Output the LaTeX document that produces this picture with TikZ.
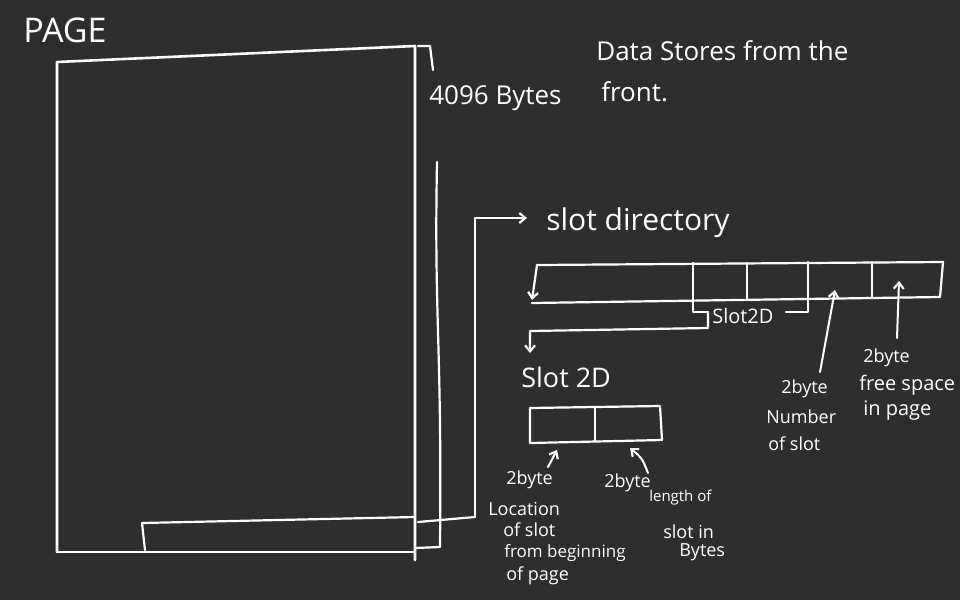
\documentclass[tikz,border=0pt]{standalone}
\usepackage{fontspec}
\setmainfont{Open Sans}
\usetikzlibrary{arrows.meta}
\definecolor{board}{HTML}{2E2E2E}
\begin{document}
\begin{tikzpicture}[x=1pt,y=-1pt,line width=2.6pt,line cap=round,line join=round,
  ink/.style={draw=white},
  lbl/.style={text=white,anchor=base west,inner sep=0pt,font=\fontsize{18}{18}\selectfont},
  big/.style={lbl,font=\fontsize{26}{26}\selectfont},
  arr/.style={ink,-{Straight Barb[length=6pt,width=10pt,line width=2.2pt]}}]
\fill[board] (0,0) rectangle (960,600);
\useasboundingbox (0,0) rectangle (960,600);

% ---- page sheet ----
\coordinate (pTL) at (57,62);
\coordinate (pTR) at (415,46);
\coordinate (pBL) at (57,552);
\coordinate (pBR) at (415,552);
\draw[ink] (pBL) -- (pTL) -- (pTR) -- (415,560);
\draw[ink] (pBL) -- (pBR);
% size bracket
\draw[ink,line width=2.2pt] (418,46) -- (430,46) -- (433,70);
% second sheet edge
\coordinate (sTop) at (437,162);
\coordinate (sBot) at (440,547);
\draw[ink,line width=2.2pt] (sTop) .. controls (434,320) and (442,340) .. (sBot) -- (415,548);
% slot directory strip inside page
\coordinate (dTL) at (142,523);
\coordinate (dTR) at (415,517);
\draw[ink,line width=2.2pt] (145,550) -- (dTL) -- (dTR);
\coordinate (cEnd) at (475,517);
\draw[ink,line width=2.2pt] (418,522) -- (cEnd);
\coordinate (cTop) at (475,218);
\coordinate (cArr) at (527,218);
\draw[arr,line width=2.2pt] (cEnd) -- (cTop) -- (cArr);

% ---- texts ----
\node[lbl,font=\fontsize{34}{34}\selectfont] (title) at (22,42) {PAGE};
\node[big,font=\fontsize{26}{26}\selectfont] (size) at (428,104) {4096 Bytes};
\node[big,font=\fontsize{26}{26}\selectfont] (note1) at (595,60) {Data Stores from the};
\node[big,font=\fontsize{26}{26}\selectfont] (note2) at (600,101) {front.};
\node[big,font=\fontsize{30}{30}\selectfont] (sdir) at (545,230) {slot directory};

% ---- slot directory ----
\coordinate (aTL) at (537,265);
\coordinate (aTR) at (943,262);
\coordinate (aBR) at (940,297);
\coordinate (aBL) at (532,303);
\draw[ink,line width=2.2pt] (aTL) -- (aTR) -- (aBR) -- (aBL);
\draw[arr,line width=2.2pt] (aTL) -- (532,300);
\foreach \x/\t/\b in {693/263/300, 747/263/300, 808/262/299, 872/262/298}
  \draw[ink,line width=2.2pt] (\x,\t) -- (\x,\b);
% brace
\draw[ink,line width=2.2pt] (693,301) -- (693,312) -- (708,312);
\node[lbl,font=\fontsize{20}{20}\selectfont] (brace) at (711,323) {Slot2D};
\draw[ink,line width=2.2pt] (786,312) -- (808,312) -- (808,299);
\coordinate (bA) at (708,312);
\coordinate (bB) at (708,328);
\coordinate (bC) at (530,331);
\coordinate (bD) at (530,353);
\draw[arr,line width=2.2pt] (bA) -- (bB) -- (bC) -- (bD);
\node[big,font=\fontsize{27}{27}\selectfont] (s2d) at (520,387) {Slot 2D};

% ---- slot 2D box ----
\draw[ink,line width=2.2pt] (530,408) -- (660,406) -- (662,440) -- (530,443) -- cycle;
\draw[ink,line width=2.2pt] (595,407) -- (595,441);

% arrows and labels for slot 2D
\draw[arr,line width=2pt] (548,467) -- (557,450);
\node[lbl] (l1) at (505,484) {2byte};
\node[lbl] (l2) at (487,515) {Location};
\node[lbl] (l3) at (502,536) {of slot};
\node[lbl,font=\fontsize{17}{17}\selectfont] (l4) at (503,557) {from beginning};
\node[lbl] (l5) at (505,580) {of page};

\draw[arr,line width=2pt] (648,473) .. controls (642,458) .. (630,448);
\node[lbl] (r1) at (603,487) {2byte};
\node[lbl,font=\fontsize{15}{15}\selectfont] (r2) at (648,501) {length of};
\node[lbl] (r3) at (662,538) {slot in};
\node[lbl] (r4) at (678,556) {Bytes};

% arrows and labels for directory fields
\draw[arr,line width=2pt] (820,372) -- (835,290);
\node[lbl] (n1) at (780,393) {2byte};
\node[lbl] (n2) at (765,423) {Number};
\node[lbl] (n3) at (767,450) {of slot};

\draw[arr,line width=2pt] (897,338) -- (899,281);
\node[lbl] (f1) at (862,362) {2byte};
\node[lbl,font=\fontsize{20}{20}\selectfont] (f2) at (858,390) {free space};
\node[lbl,font=\fontsize{20}{20}\selectfont] (f3) at (862,415) {in page};
\end{tikzpicture}
\end{document}
